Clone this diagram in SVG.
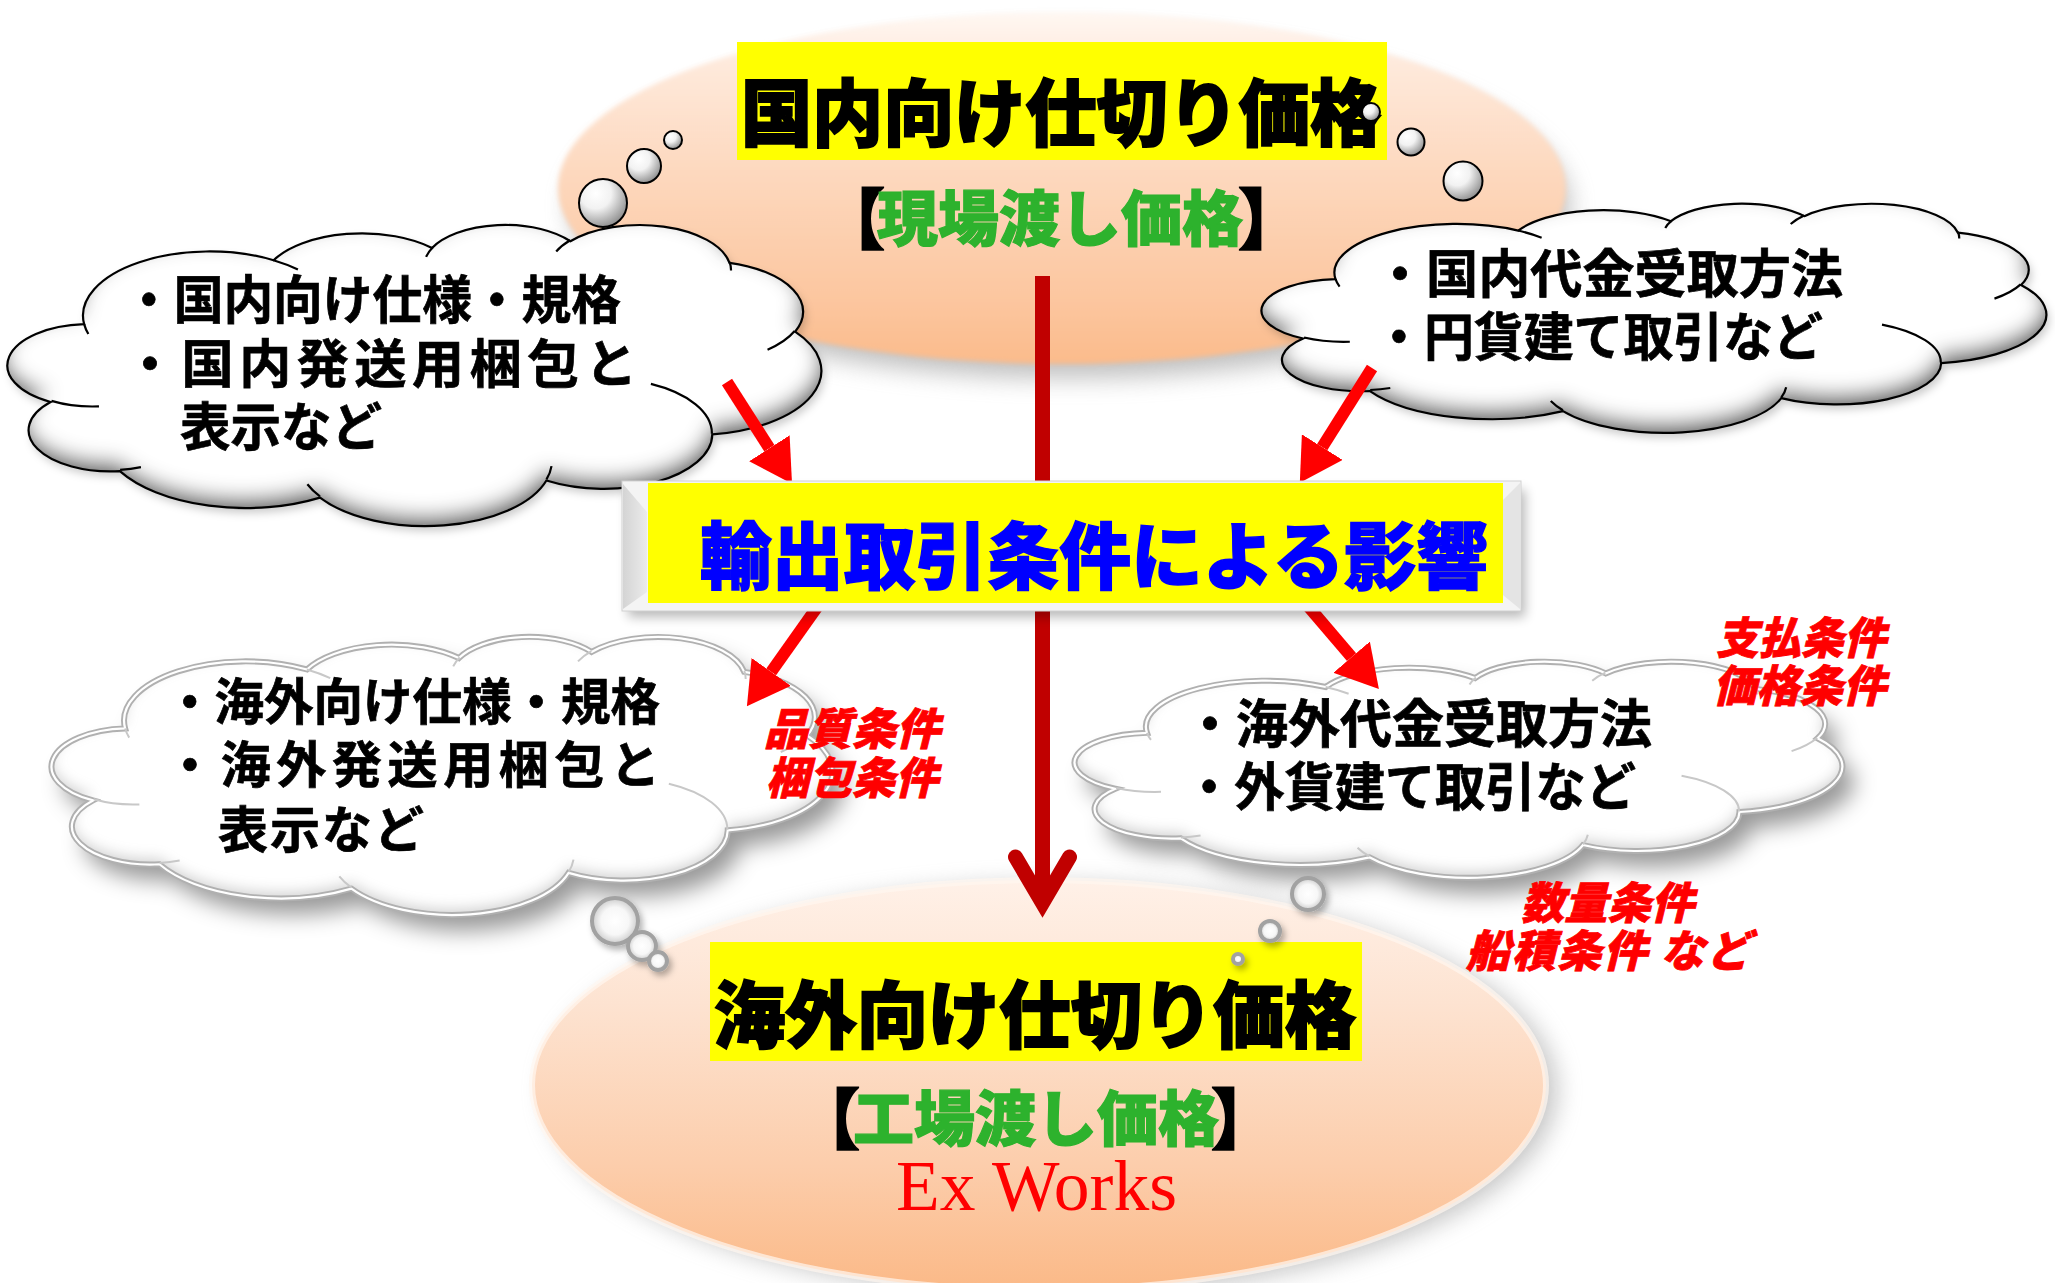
<svg xmlns="http://www.w3.org/2000/svg" xmlns:xlink="http://www.w3.org/1999/xlink" width="2055" height="1283" viewBox="0 0 2055 1283">
  <style>
    .jp { font-family: 'Noto Sans CJK JP', 'Noto Sans CJK SC', sans-serif; font-weight: 700; }
    .cloud-txt { font-size: 52px; fill: #000; stroke: #000; stroke-width: 0.7px; }
    .low-txt { font-size: 50px; fill: #000; stroke: #000; stroke-width: 0.7px; }
    .title { font-size: 73px; fill: #000; font-weight: 900; stroke: #000; stroke-width: 1.8px; }
    .bracket { font-size: 66px; fill: #000; font-weight: 900; stroke: #000; stroke-width: 1.5px; }
    .green { font-size: 60px; fill: #2db22d; font-weight: 900; stroke: #2db22d; stroke-width: 1.2px; }
    .cond { font-size: 44px; fill: #ff0000; font-style: italic; font-weight: 900; stroke: #ff0000; stroke-width: 0.8px; }
    .nss { vector-effect: non-scaling-stroke; }
    .bubble { fill: url(#bubbleGrad); stroke: #000; stroke-width: 2; }
    .ring { fill: url(#ringGrad); stroke: #a2a2a2; stroke-width: 4; }
    .link-red { stroke: #ff0000; stroke-width: 12; fill: none; marker-end: url(#redHead); }
    .link-main { stroke: #c00000; stroke-width: 15; fill: none; marker-end: url(#openHead); }
  </style>
  <defs>
    <!-- cloud outline in a 100 x 100 box -->
    <path id="cloud" class="nss" d="M 9.03 33.26 A 15.63 21.27 0 0 1 32.42 12.04 A 12.34 16.82 0 0 1 51.98 7.94 A 10.10 13.76 0 0 1 69.06 5.74 A 11.24 15.27 0 0 1 88.70 12.90 A 12.34 16.84 0 0 1 96.80 35.78 A 15.68 21.34 0 0 1 86.58 69.91 A 13.39 18.21 0 0 1 66.10 85.21 A 15.63 21.33 0 0 1 38.15 90.89 A 17.87 24.41 0 0 1 13.44 82.11 A 10.09 13.70 0 0 1 4.89 59.15 A 10.06 13.76 0 0 1 9.03 33.26 Z"/>
    <!-- inner crease lines of the cloud -->
    <path id="creases" class="nss" fill="none" d="M 10.86 60.59 A 10.06 13.76 0 0 1 5.00 58.75 M 16.04 80.78 A 10.09 13.70 0 0 1 13.47 81.67 M 38.14 90.49 A 15.63 21.33 0 0 1 36.59 86.45 M 66.73 80.44 A 15.63 21.33 0 0 1 66.11 84.86 M 79.00 53.13 A 13.39 18.21 0 0 1 86.53 69.65 M 96.75 35.54 A 12.34 16.84 0 0 1 93.40 41.74 M 88.71 12.56 A 11.24 15.27 0 0 1 88.89 15.48 M 67.31 9.15 A 11.24 15.27 0 0 1 69.03 5.42 M 51.25 10.93 A 10.10 13.76 0 0 1 52.08 7.71 M 32.41 12.02 A 15.63 21.27 0 0 1 35.42 15.14 M 9.55 36.55 A 15.63 21.27 0 0 1 9.03 33.27"/>

    <linearGradient id="peachTop" x1="0" y1="0" x2="0" y2="1">
      <stop offset="0" stop-color="#fff8f3"/>
      <stop offset="0.15" stop-color="#fee9db"/>
      <stop offset="0.5" stop-color="#fdd6ba"/>
      <stop offset="0.82" stop-color="#fcc69f"/>
      <stop offset="1" stop-color="#fbbb8b"/>
    </linearGradient>
    <linearGradient id="peachBot" x1="0" y1="0" x2="0" y2="1">
      <stop offset="0" stop-color="#fff1e8"/>
      <stop offset="0.3" stop-color="#fde3d1"/>
      <stop offset="0.7" stop-color="#fccdab"/>
      <stop offset="1" stop-color="#fbb987"/>
    </linearGradient>
    <radialGradient id="bubbleGrad" cx="0.35" cy="0.3" r="0.8">
      <stop offset="0" stop-color="#ffffff"/>
      <stop offset="0.4" stop-color="#f2f2f2"/>
      <stop offset="1" stop-color="#808080"/>
    </radialGradient>
    <radialGradient id="ringGrad" cx="0.5" cy="0.5" r="0.5">
      <stop offset="0" stop-color="#ffffff"/>
      <stop offset="0.6" stop-color="#f7f7f7"/>
      <stop offset="1" stop-color="#cccccc"/>
    </radialGradient>
    <linearGradient id="bevelL" x1="0" y1="0" x2="1" y2="0">
      <stop offset="0" stop-color="#d4d4d4"/>
      <stop offset="1" stop-color="#ebebeb"/>
    </linearGradient>

    <filter id="blur12" x="-20%" y="-30%" width="140%" height="160%">
      <feGaussianBlur stdDeviation="12"/>
    </filter>
    <filter id="blur6" x="-10%" y="-30%" width="120%" height="160%">
      <feGaussianBlur stdDeviation="6"/>
    </filter>
    <filter id="soft" x="-5%" y="-10%" width="110%" height="120%">
      <feGaussianBlur stdDeviation="2.5"/>
    </filter>
    <!-- outlined cloud: slight drop shadow plus inner shading along lower edges -->
    <filter id="cloudShade" x="-5%" y="-8%" width="115%" height="125%">
      <feGaussianBlur in="SourceAlpha" stdDeviation="4"/>
      <feOffset dx="3" dy="5" result="sh"/>
      <feFlood flood-color="#000" flood-opacity="0.2"/>
      <feComposite in2="sh" operator="in" result="shadow"/>
      <feGaussianBlur in="SourceAlpha" stdDeviation="10" result="b2"/>
      <feOffset in="b2" dx="-2" dy="-10" result="o2"/>
      <feComposite in="SourceAlpha" in2="o2" operator="out" result="rim"/>
      <feFlood flood-color="#4a4a4a" flood-opacity="0.95"/>
      <feComposite in2="rim" operator="in" result="shade"/>
      <feMerge>
        <feMergeNode in="shadow"/>
        <feMergeNode in="SourceGraphic"/>
        <feMergeNode in="shade"/>
      </feMerge>
    </filter>
    <!-- embossed cloud: large soft drop shadow -->
    <filter id="cloudDrop" x="-10%" y="-15%" width="130%" height="145%">
      <feGaussianBlur in="SourceAlpha" stdDeviation="11"/>
      <feOffset dx="12" dy="16" result="sh"/>
      <feFlood flood-color="#000" flood-opacity="0.4"/>
      <feComposite in2="sh" operator="in" result="shadow"/>
      <feGaussianBlur in="SourceAlpha" stdDeviation="7" result="b2"/>
      <feOffset in="b2" dx="0" dy="-6" result="o2"/>
      <feComposite in="SourceAlpha" in2="o2" operator="out" result="rim"/>
      <feFlood flood-color="#888" flood-opacity="0.5"/>
      <feComposite in2="rim" operator="in" result="shade"/>
      <feMerge>
        <feMergeNode in="shadow"/>
        <feMergeNode in="SourceGraphic"/>
        <feMergeNode in="shade"/>
      </feMerge>
    </filter>
    <filter id="ringDrop" x="-50%" y="-50%" width="200%" height="200%">
      <feGaussianBlur in="SourceAlpha" stdDeviation="3"/>
      <feOffset dx="3" dy="4" result="sh"/>
      <feFlood flood-color="#000" flood-opacity="0.3"/>
      <feComposite in2="sh" operator="in" result="shadow"/>
      <feMerge>
        <feMergeNode in="shadow"/>
        <feMergeNode in="SourceGraphic"/>
      </feMerge>
    </filter>

    <marker id="redHead" markerUnits="userSpaceOnUse" viewBox="0 0 42 48" refX="0" refY="24" markerWidth="42" markerHeight="48" orient="auto">
      <path d="M0,0 L42,24 L0,48 Z" fill="#ff0000"/>
    </marker>
    <marker id="openHead" markerUnits="userSpaceOnUse" viewBox="-60 -40 80 80" refX="0" refY="0" markerWidth="80" markerHeight="80" orient="auto" overflow="visible">
      <path d="M -46 -27 L 0 0 L -46 27" fill="none" stroke="#c00000" stroke-width="15" stroke-linecap="round" stroke-linejoin="miter"/>
    </marker>
  </defs>

  <rect width="2055" height="1283" fill="#ffffff"/>

  <!-- domestic price (top ellipse) -->
  <g id="domestic-price">
    <ellipse cx="1070" cy="206" rx="500" ry="172" fill="#8c8c8c" opacity="0.55" filter="url(#blur12)"/>
    <ellipse cx="1062" cy="188" rx="504" ry="176" fill="url(#peachTop)" filter="url(#soft)"/>
    <rect x="737" y="42" width="650" height="118" fill="#ffff00"/>
    <text class="jp title" x="1061" y="140" text-anchor="middle" textLength="640" lengthAdjust="spacingAndGlyphs">国内向け仕切り価格</text>
    <text class="jp bracket" x="819" y="244">【</text>
    <text class="jp green" x="877" y="241" textLength="366" lengthAdjust="spacingAndGlyphs">現場渡し価格</text>
    <text class="jp bracket" x="1238" y="244">】</text>
  </g>

  <!-- export price (bottom ellipse) -->
  <g id="export-price">
    <ellipse cx="1052" cy="1090" rx="505" ry="205" fill="#8c8c8c" opacity="0.5" filter="url(#blur12)"/>
    <ellipse cx="1039" cy="1085" rx="507" ry="205" fill="url(#peachBot)" stroke="#fff6f0" stroke-opacity="0.7" stroke-width="6"/>
    <rect x="710" y="942" width="652" height="119" fill="#ffff00"/>
    <text class="jp title" x="1035" y="1042" text-anchor="middle" textLength="642" lengthAdjust="spacingAndGlyphs">海外向け仕切り価格</text>
    <text class="jp bracket" x="794" y="1144">【</text>
    <text class="jp green" x="853" y="1141" textLength="366" lengthAdjust="spacingAndGlyphs">工場渡し価格</text>
    <text class="jp bracket" x="1211" y="1144">】</text>
    <text x="896" y="1210" font-family="'Liberation Serif', 'Times New Roman', serif" font-size="71" fill="#ff0000" textLength="281" lengthAdjust="spacingAndGlyphs">Ex Works</text>
  </g>

  <!-- domestic specification cloud -->
  <g id="domestic-spec">
    <g filter="url(#cloudShade)">
      <use xlink:href="#cloud" transform="translate(11 224) scale(8.1 3.01)" fill="#ffffff"/>
    </g>
    <use xlink:href="#cloud" transform="translate(11 224) scale(8.1 3.01)" fill="none" stroke="#000" stroke-width="2.2"/>
    <use xlink:href="#creases" transform="translate(11 224) scale(8.1 3.01)" stroke="#000" stroke-width="2.2"/>
    <circle class="bubble" cx="603" cy="203" r="24"/>
    <circle class="bubble" cx="644" cy="166" r="17"/>
    <circle class="bubble" cx="673" cy="140" r="9"/>
    <text class="jp cloud-txt" x="124" y="319" textLength="497" lengthAdjust="spacingAndGlyphs">・国内向け仕様・規格</text>
    <text class="jp cloud-txt" x="124" y="383" textLength="513" lengthAdjust="spacing">・国内発送用梱包と</text>
    <text class="jp cloud-txt" x="180" y="446" textLength="202" lengthAdjust="spacingAndGlyphs">表示など</text>
  </g>

  <!-- domestic payment cloud -->
  <g id="domestic-payment">
    <g filter="url(#cloudShade)">
      <use xlink:href="#cloud" transform="translate(1265 203) scale(7.81 2.29)" fill="#ffffff"/>
    </g>
    <use xlink:href="#cloud" transform="translate(1265 203) scale(7.81 2.29)" fill="none" stroke="#000" stroke-width="2.2"/>
    <use xlink:href="#creases" transform="translate(1265 203) scale(7.81 2.29)" stroke="#000" stroke-width="2.2"/>
    <circle class="bubble" cx="1371" cy="112" r="9"/>
    <circle class="bubble" cx="1411" cy="142" r="13.5"/>
    <circle class="bubble" cx="1463" cy="181" r="19.5"/>
    <text class="jp cloud-txt" x="1374" y="293" textLength="469" lengthAdjust="spacingAndGlyphs">・国内代金受取方法</text>
    <text class="jp cloud-txt" x="1374" y="356" textLength="449" lengthAdjust="spacingAndGlyphs">・円貨建て取引など</text>
  </g>

  <!-- overseas specification cloud -->
  <g id="overseas-spec">
    <g filter="url(#cloudDrop)">
      <use xlink:href="#cloud" transform="translate(55 636) scale(7.77 2.78)" fill="#ffffff"/>
    </g>
    <use xlink:href="#cloud" transform="translate(55 636) scale(7.77 2.78)" fill="none" stroke="#b0b0b0" stroke-width="6"/>
    <use xlink:href="#cloud" transform="translate(55 636) scale(7.77 2.78)" fill="none" stroke="#ffffff" stroke-width="2.2"/>
    <use xlink:href="#creases" transform="translate(55 636) scale(7.77 2.78)" stroke="#c8c8c8" stroke-width="2"/>
    <g filter="url(#ringDrop)">
      <circle class="ring" cx="615" cy="921" r="23"/>
      <circle class="ring" cx="642" cy="946" r="14"/>
      <circle class="ring" cx="658" cy="961" r="9"/>
    </g>
    <text class="jp low-txt" x="165" y="720" textLength="495" lengthAdjust="spacingAndGlyphs">・海外向け仕様・規格</text>
    <text class="jp low-txt" x="165" y="783" textLength="495" lengthAdjust="spacing">・海外発送用梱包と</text>
    <text class="jp low-txt" x="218" y="848" textLength="206" lengthAdjust="spacing">表示など</text>
  </g>

  <!-- overseas payment cloud -->
  <g id="overseas-payment">
    <g filter="url(#cloudDrop)">
      <use xlink:href="#cloud" transform="translate(1078 661) scale(7.64 2.16)" fill="#ffffff"/>
    </g>
    <use xlink:href="#cloud" transform="translate(1078 661) scale(7.64 2.16)" fill="none" stroke="#b0b0b0" stroke-width="6"/>
    <use xlink:href="#cloud" transform="translate(1078 661) scale(7.64 2.16)" fill="none" stroke="#ffffff" stroke-width="2.2"/>
    <use xlink:href="#creases" transform="translate(1078 661) scale(7.64 2.16)" stroke="#c8c8c8" stroke-width="2"/>
    <g filter="url(#ringDrop)">
      <circle class="ring" cx="1308" cy="894" r="16"/>
      <circle class="ring" cx="1270" cy="931" r="10"/>
      <circle class="ring" cx="1238" cy="959" r="5"/>
    </g>
    <text class="jp cloud-txt" x="1184" y="743" textLength="468" lengthAdjust="spacingAndGlyphs">・海外代金受取方法</text>
    <text class="jp cloud-txt" x="1184" y="806" textLength="452" lengthAdjust="spacingAndGlyphs">・外貨建て取引など</text>
  </g>

  <!-- connectors -->
  <g id="connectors">
    <path class="link-main" d="M 1042.5 276 V 903"/>
    <path class="link-red" d="M 727 382 L 769.4 448.3"/>
    <path class="link-red" d="M 1372 368 L 1322.2 447.1"/>
    <path class="link-red" d="M 825 596 L 771.2 671.9"/>
    <path class="link-red" d="M 1302 599 L 1351.6 657.1"/>
  </g>

  <!-- export trade conditions box -->
  <g id="export-conditions">
    <rect x="628" y="490" width="897" height="127" fill="#000" opacity="0.28" filter="url(#blur6)"/>
    <rect x="622" y="481" width="899" height="130" fill="#f4f4f4" stroke="#d2d2d2" stroke-width="1"/>
    <polygon points="623,484 647,512 647,592 623,609" fill="url(#bevelL)"/>
    <polygon points="1520,483 1503,500 1503,595 1520,609" fill="#e4e4e4"/>
    <rect x="648" y="483" width="855" height="120" fill="#ffff00"/>
    <text class="jp title" x="1094" y="583" text-anchor="middle" textLength="788" lengthAdjust="spacingAndGlyphs" style="fill:#0000ff;stroke:#0000ff;stroke-width:1.4px">輸出取引条件による影響</text>
  </g>

  <!-- condition labels -->
  <g id="condition-labels">
    <text class="jp cond" x="764" y="745" textLength="176" lengthAdjust="spacingAndGlyphs">品質条件</text>
    <text class="jp cond" x="766" y="794" textLength="172" lengthAdjust="spacingAndGlyphs">梱包条件</text>
    <text class="jp cond" x="1716" y="654" textLength="170" lengthAdjust="spacingAndGlyphs">支払条件</text>
    <text class="jp cond" x="1713" y="702" textLength="173" lengthAdjust="spacingAndGlyphs">価格条件</text>
    <text class="jp cond" x="1521" y="919" textLength="173" lengthAdjust="spacingAndGlyphs">数量条件</text>
    <text class="jp cond" x="1466" y="967" textLength="284" lengthAdjust="spacing">船積条件 など</text>
  </g>
</svg>
